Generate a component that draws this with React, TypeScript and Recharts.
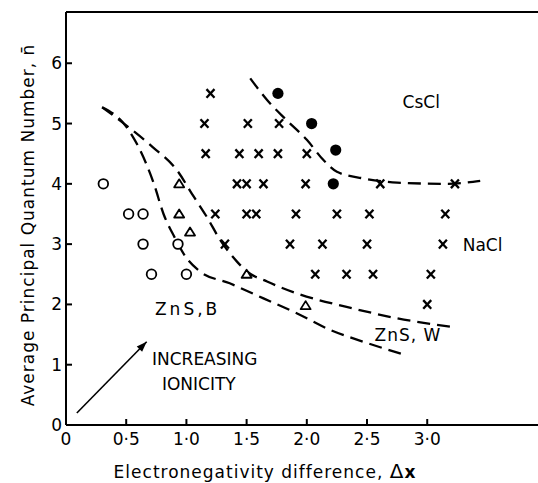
import React from "react";
import {
  ComposedChart,
  Scatter,
  Curve,
  XAxis,
  YAxis,
  ReferenceLine,
  ReferenceDot,
  Label,
} from "recharts";

const FONT = "DejaVu Sans";

// structure types
const zincBlende = [
  { x: 0.31, y: 4.0 },
  { x: 0.52, y: 3.5 },
  { x: 0.64, y: 3.5 },
  { x: 0.64, y: 3.0 },
  { x: 0.71, y: 2.5 },
  { x: 0.93, y: 3.0 },
  { x: 1.0, y: 2.5 },
];

const wurtzite = [
  { x: 0.94, y: 4.0 },
  { x: 0.94, y: 3.5 },
  { x: 1.03, y: 3.2 },
  { x: 1.5, y: 2.5 },
  { x: 1.99, y: 1.98 },
];

const rockSalt = [
  { x: 1.2, y: 5.5 },
  { x: 1.15, y: 5.0 },
  { x: 1.51, y: 5.0 },
  { x: 1.77, y: 5.0 },
  { x: 1.16, y: 4.5 },
  { x: 1.44, y: 4.5 },
  { x: 1.6, y: 4.5 },
  { x: 1.76, y: 4.5 },
  { x: 2.0, y: 4.5 },
  { x: 1.42, y: 4.0 },
  { x: 1.5, y: 4.0 },
  { x: 1.64, y: 4.0 },
  { x: 1.99, y: 4.0 },
  { x: 2.61, y: 4.0 },
  { x: 3.23, y: 4.0 },
  { x: 1.24, y: 3.5 },
  { x: 1.5, y: 3.5 },
  { x: 1.58, y: 3.5 },
  { x: 1.91, y: 3.5 },
  { x: 2.25, y: 3.5 },
  { x: 2.52, y: 3.5 },
  { x: 3.15, y: 3.5 },
  { x: 1.32, y: 3.0 },
  { x: 1.86, y: 3.0 },
  { x: 2.13, y: 3.0 },
  { x: 2.5, y: 3.0 },
  { x: 3.13, y: 3.0 },
  { x: 2.07, y: 2.5 },
  { x: 2.33, y: 2.5 },
  { x: 2.55, y: 2.5 },
  { x: 3.03, y: 2.5 },
  { x: 3.0, y: 2.0 },
];

const cesiumChloride = [
  { x: 1.76, y: 5.5 },
  { x: 2.04, y: 5.0 },
  { x: 2.24, y: 4.56 },
  { x: 2.22, y: 4.0 },
];

// dashed boundaries
const boundaryB = [
  { x: 0.3, y: 5.27 },
  { x: 0.5, y: 4.95 },
  { x: 0.6, y: 4.62 },
  { x: 0.73, y: 4.0 },
  { x: 0.81, y: 3.5 },
  { x: 0.9, y: 3.12 },
  { x: 0.99, y: 2.8 },
  { x: 1.11, y: 2.55 },
  { x: 1.36, y: 2.35 },
  { x: 1.64, y: 2.1 },
  { x: 1.92, y: 1.85 },
  { x: 2.19, y: 1.58 },
  { x: 2.47, y: 1.38 },
  { x: 2.82, y: 1.16 },
];

const boundaryW = [
  { x: 0.3, y: 5.27 },
  { x: 0.5, y: 4.97 },
  { x: 0.72, y: 4.61 },
  { x: 0.92, y: 4.23 },
  { x: 1.06, y: 3.79 },
  { x: 1.17, y: 3.45 },
  { x: 1.28, y: 3.07 },
  { x: 1.42, y: 2.71 },
  { x: 1.5, y: 2.55 },
  { x: 1.67, y: 2.38 },
  { x: 1.92, y: 2.18 },
  { x: 2.33, y: 1.96 },
  { x: 2.75, y: 1.77 },
  { x: 3.19, y: 1.63 },
];

const boundaryCsCl = [
  { x: 1.53, y: 5.75 },
  { x: 1.67, y: 5.39 },
  { x: 1.83, y: 5.06 },
  { x: 2.0, y: 4.73 },
  { x: 2.14, y: 4.39 },
  { x: 2.25, y: 4.2 },
  { x: 2.47, y: 4.09 },
  { x: 2.75, y: 4.02 },
  { x: 3.16, y: 4.0 },
  { x: 3.44, y: 4.05 },
];

const xTicks = [0, 0.5, 1, 1.5, 2, 2.5, 3];
const yTicks = [0, 1, 2, 3, 4, 5, 6];

const labels = [
  { x: 2.95, y: 5.36, text: "CsCl", anchor: "middle", spacing: 0 },
  { x: 3.46, y: 2.99, text: "NaCl", anchor: "middle", spacing: 0 },
  { x: 1.01, y: 1.92, text: "ZnS,B", anchor: "middle", spacing: 3 },
  { x: 2.84, y: 1.49, text: "ZnS, W", anchor: "middle", spacing: 1 },
  { x: 0.714, y: 1.09, text: "INCREASING", anchor: "start", spacing: 0 },
  { x: 0.797, y: 0.68, text: "IONICITY", anchor: "start", spacing: 0 },
];

const fmt = (v: number) => (v === 0 ? "0" : v.toFixed(1).replace(".", "\u00b7"));

const OpenCircle = (p: any) => (
  <circle cx={p.cx} cy={p.cy} r={4.8} fill="#fff" stroke="#000" strokeWidth={1.8} />
);
const FilledCircle = (p: any) => <circle cx={p.cx} cy={p.cy} r={5.6} fill="#000" />;
const Triangle = (p: any) => (
  <path
    d={`M${p.cx},${p.cy - 4.5} L${p.cx + 5},${p.cy + 3.5} L${p.cx - 5},${p.cy + 3.5} Z`}
    fill="#fff"
    stroke="#000"
    strokeWidth={1.8}
    strokeLinejoin="round"
  />
);
const Cross = (p: any) => (
  <g stroke="#000" strokeWidth={2.3}>
    <line x1={p.cx - 4} y1={p.cy - 4.3} x2={p.cx + 4} y2={p.cy + 4.3} />
    <line x1={p.cx + 4} y1={p.cy - 4.3} x2={p.cx - 4} y2={p.cy + 4.3} />
  </g>
);
const NoDot = () => <g />;

const DashedCurve = (p: any) => (
  <Curve
    points={p.points}
    type="monotoneX"
    fill="none"
    stroke="#000"
    strokeWidth={2.3}
    strokeDasharray="13 7"
  />
);

const Arrow = (p: any) => {
  const { x1, y1, x2, y2 } = p;
  const a = Math.atan2(y2 - y1, x2 - x1);
  const L = 11;
  const w = 0.35;
  const hx1 = x2 - L * Math.cos(a - w);
  const hy1 = y2 - L * Math.sin(a - w);
  const hx2 = x2 - L * Math.cos(a + w);
  const hy2 = y2 - L * Math.sin(a + w);
  return (
    <g>
      <line x1={x1} y1={y1} x2={x2} y2={y2} stroke="#000" strokeWidth={1.6} />
      <path d={`M${x2},${y2} L${hx1},${hy1} L${hx2},${hy2} Z`} fill="#000" />
    </g>
  );
};

export default function App() {
  return (
    <div style={{ position: "absolute", left: 0, top: 0, background: "#fff" }}>
      <ComposedChart
        width={538}
        height={483}
        margin={{ top: 12, right: 0, left: 0, bottom: 0 }}
      >
        <XAxis
          type="number"
          dataKey="x"
          domain={[0, 3.92]}
          ticks={xTicks}
          tickFormatter={fmt}
          allowDataOverflow
          height={58}
          stroke="#000"
          strokeWidth={2}
          tickSize={-6}
          tickMargin={14}
          tick={{ fill: "#000", fontSize: 17, fontFamily: FONT }}
        >
          <Label
            content={() => (
              <text
                x={265}
                y={478}
                textAnchor="middle"
                fontFamily={FONT}
                fontSize={17}
                letterSpacing={1}
                fill="#000"
              >
                Electronegativity difference,{" "}
                <tspan fontSize={20}>Δ</tspan>
                <tspan fontWeight="bold">x</tspan>
              </text>
            )}
          />
        </XAxis>
        <YAxis
          type="number"
          dataKey="y"
          domain={[0, 6.85]}
          ticks={yTicks}
          allowDataOverflow
          width={66}
          stroke="#000"
          strokeWidth={2}
          tickSize={-6}
          tickMargin={10}
          tick={{ fill: "#000", fontSize: 17, fontFamily: FONT }}
        >
          <Label
            content={() => (
              <text
                x={34}
                y={225}
                transform="rotate(-90 34 225)"
                textAnchor="middle"
                fontFamily={FONT}
                fontSize={17}
                letterSpacing={1}
                fill="#000"
              >
                Average Principal Quantum Number, n̄
              </text>
            )}
          />
        </YAxis>
        <ReferenceLine y={6.85} stroke="#000" strokeWidth={2} />
        <Scatter data={boundaryB} dataKey="y" shape={NoDot} line={DashedCurve} isAnimationActive={false} />
        <Scatter data={boundaryW} dataKey="y" shape={NoDot} line={DashedCurve} isAnimationActive={false} />
        <Scatter data={boundaryCsCl} dataKey="y" shape={NoDot} line={DashedCurve} isAnimationActive={false} />
        <Scatter data={zincBlende} dataKey="y" shape={OpenCircle} isAnimationActive={false} />
        <Scatter data={wurtzite} dataKey="y" shape={Triangle} isAnimationActive={false} />
        <Scatter data={rockSalt} dataKey="y" shape={Cross} isAnimationActive={false} />
        <Scatter data={cesiumChloride} dataKey="y" shape={FilledCircle} isAnimationActive={false} />
        <ReferenceLine
          segment={[
            { x: 0.09, y: 0.2 },
            { x: 0.67, y: 1.38 },
          ]}
          shape={Arrow}
        />
        {labels.map((l) => (
          <ReferenceDot
            key={l.text}
            x={l.x}
            y={l.y}
            r={0}
            shape={(p: any) => (
              <text
                x={p.cx}
                y={p.cy}
                dy="0.36em"
                textAnchor={l.anchor}
                fontFamily={FONT}
                fontSize={17}
                letterSpacing={l.spacing}
                fill="#000"
              >
                {l.text}
              </text>
            )}
          />
        ))}
      </ComposedChart>
    </div>
  );
}
